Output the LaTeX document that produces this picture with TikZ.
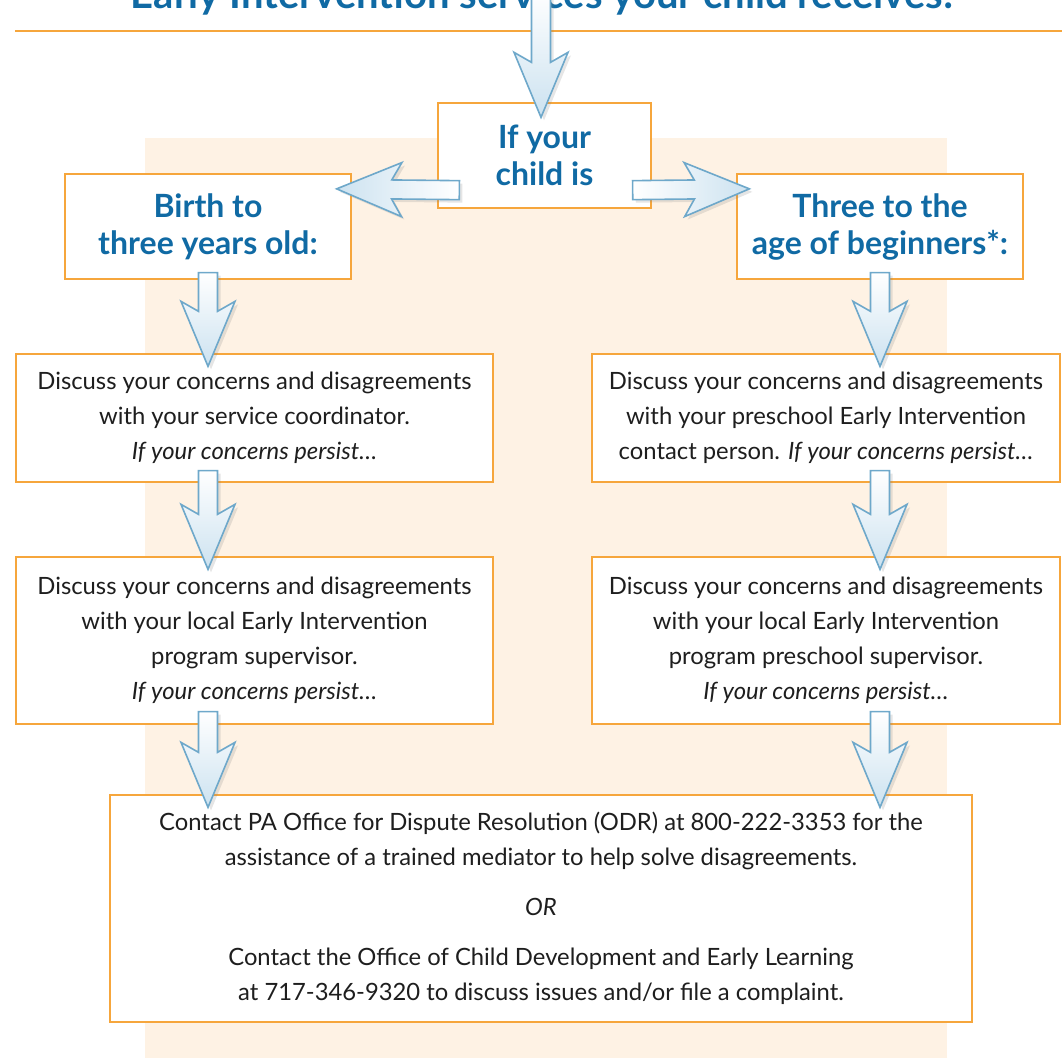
\documentclass[tikz,border=0pt]{standalone}
\usepackage{fontspec}
\setmainfont{Lato}
\usetikzlibrary{calc,shadows}

\definecolor{eiblue}{RGB}{16,106,164}
\definecolor{eiorange}{RGB}{246,166,60}
\definecolor{eipeach}{RGB}{254,242,228}
\definecolor{eitext}{RGB}{30,30,30}
\definecolor{arrowline}{RGB}{110,168,202}
\definecolor{arrowfill}{RGB}{204,226,240}

% block arrow from #2 to #3 (tip), optional shading in #1
\newcommand{\flowarrow}[3][]{%
  \path[flow,#1] let \p1=#2, \p2=#3,
      \n1={atan2(\y2-\y1,\x2-\x1)}, \n2={veclen(\x2-\x1,\y2-\y1)},
      \n3={\n2-55pt}, \n4={\n2-65pt} in
    ($(\p1)+(\n1+90:9.5pt)$) -- ($(\p1)+(\n1:\n3)+(\n1+90:9.5pt)$)
    -- ($(\p1)+(\n1:\n4)+(\n1+90:27pt)$) -- (\p2)
    -- ($(\p1)+(\n1:\n4)+(\n1-90:27pt)$) -- ($(\p1)+(\n1:\n3)+(\n1-90:9.5pt)$)
    -- ($(\p1)+(\n1-90:9.5pt)$) -- cycle;}

\begin{document}
\begin{tikzpicture}
    [x=1pt,y=-1pt,
     box/.style={draw=eiorange,line width=1.3pt,fill=white,align=center,inner sep=0pt,
       text=eitext,font=\fontsize{23.8}{35}\selectfont},
     head/.style={box,text=eiblue,font=\fontsize{32}{37}\selectfont\bfseries},
     flow/.style={draw=arrowline,line width=1.6pt,top color=white,bottom color=arrowfill,
       drop shadow={opacity=0.2,shadow xshift=3pt,shadow yshift=-3pt}}]
  \useasboundingbox (0,0) rectangle (1062,1058);
  \clip (0,0) rectangle (1062,1058);
  \fill[eipeach] (145,138) rectangle (947,1058);
  \node[anchor=base,text=eiblue,font=\fontsize{40}{40}\selectfont\bfseries] (title) at (542,8)
    {Early Intervention services your child receives:};
  \draw[eiorange,line width=1.5pt] (15,31) -- (1062,31);
  \coordinate (src) at (541,-10);

  \node[head,minimum width=213pt,minimum height=105pt] (ifchild) at (544.5,155.5) {If your\\child is};
  \node[head,minimum width=286pt,minimum height=105pt] (birth) at (208,226.5) {Birth to\\three years old:};
  \node[head,minimum width=286pt,minimum height=105pt] (three) at (880,226.5) {Three to the\\age of beginners*:};

  \node[box,minimum width=477pt,minimum height=128pt] (lone) at (254.5,418)
    {Discuss your concerns and disagreements\\with your service coordinator.\\\textit{If your concerns persist…}};
  \node[box,minimum width=468pt,minimum height=128pt] (rone) at (826,418)
    {Discuss your concerns and disagreements\\with your preschool Early Intervention\\contact person. \textit{If your concerns persist…}};
  \node[box,minimum width=477pt,minimum height=167pt] (ltwo) at (254.5,640.5)
    {Discuss your concerns and disagreements\\with your local Early Intervention\\program supervisor.\\\textit{If your concerns persist…}};
  \node[box,minimum width=468pt,minimum height=167pt] (rtwo) at (826,640.5)
    {Discuss your concerns and disagreements\\with your local Early Intervention\\program preschool supervisor.\\\textit{If your concerns persist…}};
  \node[box,minimum width=862pt,minimum height=227pt] (odr) at (541,908.5)
    {Contact PA Office for Dispute Resolution (ODR) at 800-222-3353 for the\\
     assistance of a trained mediator to help solve disagreements.\\[15pt]
     \textit{OR}\\[15pt]
     Contact the Office of Child Development and Early Learning\\
     at 717-346-9320 to discuss issues and/or file a complaint.};

  \flowarrow{(src)}{($(ifchild.north)+(-3.5,15)$)}
  \flowarrow[left color=arrowfill,right color=white]
    {($(ifchild.south west)+(22,-18.5)$)}{($(birth.north east)+(-15,15.5)$)}
  \flowarrow[left color=white,right color=arrowfill]
    {($(ifchild.south east)+(-19,-18.5)$)}{($(three.north west)+(13,15.5)$)}
  \foreach \ha/\hb/\hc in {birth/lone/ltwo, three/rone/rtwo} {
    \flowarrow{($(\ha.south)+(0,-7)$)}{($(\ha.south |- \hb.north)+(0,13)$)}
    \flowarrow{($(\ha.south |- \hb.south)+(0,-12)$)}{($(\ha.south |- \hc.north)+(0,13)$)}
    \flowarrow{($(\ha.south |- \hc.south)+(0,-13)$)}{($(\ha.south |- odr.north)+(0,13)$)}
  }
\end{tikzpicture}
\end{document}
